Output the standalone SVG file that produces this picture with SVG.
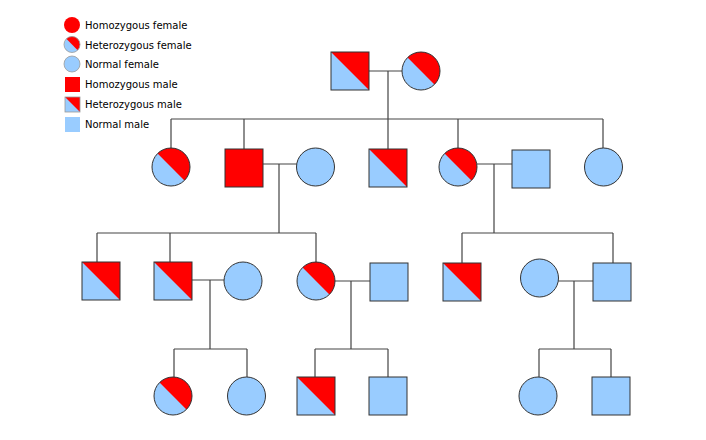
<svg xmlns="http://www.w3.org/2000/svg" width="706" height="440" viewBox="0 0 706 440">
<style>
.bl{fill:#99ccff}
.rd{fill:#ff0000}
.ol{fill:none;stroke:#333;stroke-width:1}
.lol{fill:none;stroke:#9a9a9a;stroke-width:0.8}
.ln{fill:none;stroke:#444;stroke-width:1.2}
.lt{font-family:"DejaVu Sans",sans-serif;font-size:10px;fill:#000}
</style>
<defs>
<g id="hetF"><circle r="19" class="bl"/><path d="M-13.435,-13.435 A19,19 0 0 1 13.435,13.435 Z" class="rd"/><circle r="19" class="ol"/></g>
<g id="norF"><circle r="19" class="bl"/><circle r="19" class="ol"/></g>
<g id="hetM"><rect width="38" height="38" class="bl"/><polygon points="0,0 38,0 38,38" class="rd"/><rect width="38" height="38" class="ol"/></g>
<g id="norM"><rect width="38" height="38" class="bl"/><rect width="38" height="38" class="ol"/></g>
<g id="homM"><rect width="38" height="38" class="rd"/><rect width="38" height="38" class="ol"/></g>
</defs>
<rect width="706" height="440" fill="#fff"/>
<g id="legend">
<circle cx="72" cy="25" r="8" class="rd"/>
<circle cx="72" cy="44.5" r="8" class="bl"/><path d="M66.343,38.843 A8,8 0 0 1 77.657,50.157 Z" class="rd"/><circle cx="72" cy="44.5" r="8" class="lol"/>
<circle cx="72" cy="64" r="8" class="bl"/><circle cx="72" cy="64" r="8" class="lol"/>
<rect x="65" y="77" width="15" height="15" class="rd"/>
<rect x="65" y="97" width="15" height="15" class="bl"/><polygon points="65,97 80,97 80,112" class="rd"/><rect x="65" y="97" width="15" height="15" class="lol"/>
<rect x="65" y="117" width="15" height="15" class="bl"/>
<text x="85" y="29" class="lt">Homozygous female</text>
<text x="85" y="48.5" class="lt">Heterozygous female</text>
<text x="85" y="68" class="lt">Normal female</text>
<text x="85" y="88" class="lt">Homozygous male</text>
<text x="85" y="108" class="lt">Heterozygous male</text>
<text x="85" y="128" class="lt">Normal male</text>
</g>
<g id="connectors" class="ln">
<path d="M369,71 H402 M388,71 V119 M171,119 H603 M171,119 V148 M244,119 V149 M388,119 V149 M458,119 V148 M603,119 V148"/>
<path d="M263,164 H297 M279,164 V233 M97,233 H316 M97,233 V262 M170,233 V262 M316,233 V262"/>
<path d="M477,164 H512 M494,164 V233 M462,233 H613 M462,233 V263 M613,233 V263"/>
<path d="M192,280 H224 M210,280 V349 M174,349 H247 M174,349 V377 M247,349 V377"/>
<path d="M335,281 H370 M351,281 V349 M315,349 H388 M315,349 V377 M388,349 V377"/>
<path d="M558,281 H593 M574,281 V349 M539,349 H611 M539,349 V377 M611,349 V377"/>
</g>
<g id="g1m"><use href="#hetM" x="331" y="52"/></g>
<g id="g1f"><use href="#hetF" x="421" y="71"/></g>
<g id="g2a"><use href="#hetF" x="171" y="167"/></g>
<g id="g2b"><use href="#homM" x="225" y="149"/></g>
<g id="g2c"><use href="#norF" x="315.5" y="167"/></g>
<g id="g2d"><use href="#hetM" x="369" y="149"/></g>
<g id="g2e"><use href="#hetF" x="458" y="167"/></g>
<g id="g2f"><use href="#norM" x="512" y="150"/></g>
<g id="g2g"><use href="#norF" x="603.5" y="167"/></g>
<g id="g3a"><use href="#hetM" x="82" y="262"/></g>
<g id="g3b"><use href="#hetM" x="154" y="262"/></g>
<g id="g3c"><use href="#norF" x="243" y="281"/></g>
<g id="g3d"><use href="#hetF" x="316" y="281"/></g>
<g id="g3e"><use href="#norM" x="370" y="263"/></g>
<g id="g3f"><use href="#hetM" x="443" y="263"/></g>
<g id="g3g"><use href="#norF" x="539.5" y="278"/></g>
<g id="g3h"><use href="#norM" x="593" y="263"/></g>
<g id="g4a"><use href="#hetF" x="173" y="396"/></g>
<g id="g4b"><use href="#norF" x="246.5" y="396"/></g>
<g id="g4c"><use href="#hetM" x="297" y="377"/></g>
<g id="g4d"><use href="#norM" x="369" y="377"/></g>
<g id="g4e"><use href="#norF" x="538" y="396"/></g>
<g id="g4f"><use href="#norM" x="592" y="377"/></g>
</svg>
